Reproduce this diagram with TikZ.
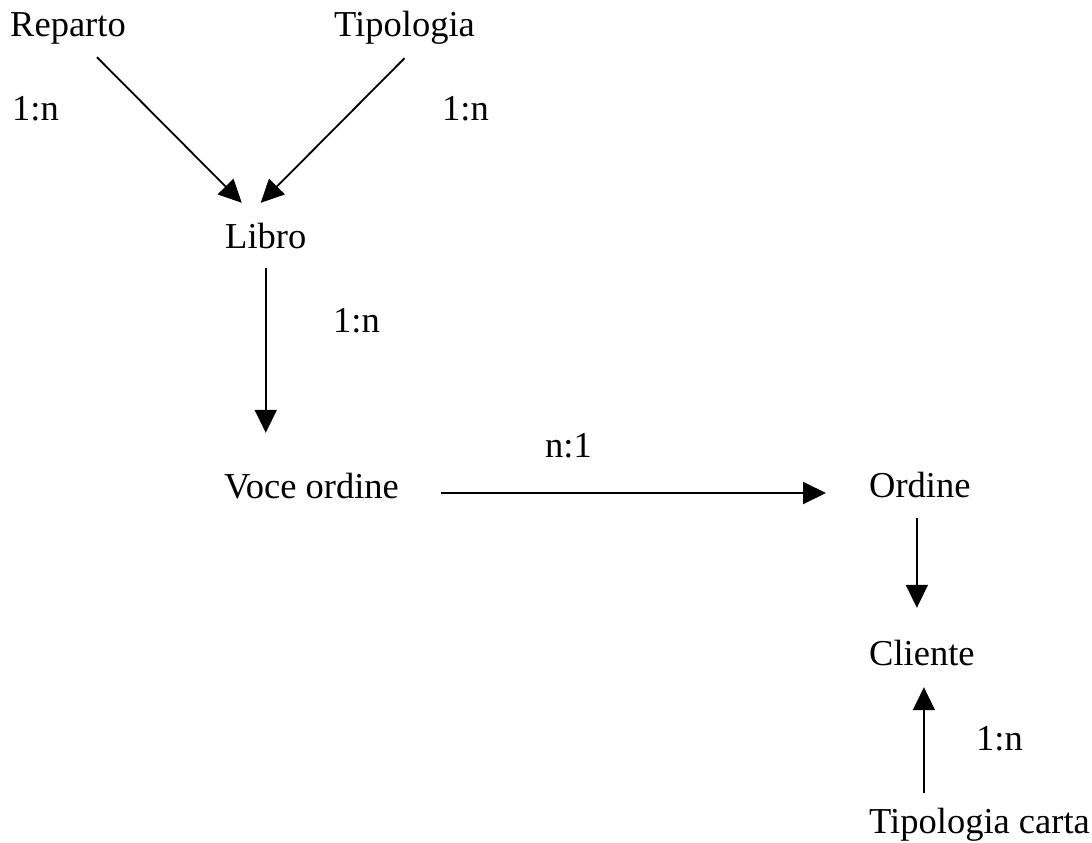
\documentclass[tikz,border=0pt]{standalone}
\usepackage{fontspec}
\setmainfont{Liberation Serif}
\usetikzlibrary{arrows.meta,calc}
\begin{document}
\begin{tikzpicture}[x=1pt,y=-1pt,
  lbl/.style={anchor=base west,inner sep=0pt,text height=25pt,text depth=8pt,font=\fontsize{36.5}{43}\selectfont},
  arr/.style={line width=1.8pt,-{Triangle[length=23pt,width=22pt]}}]
\useasboundingbox (0,0) rectangle (1092,843);
\node[lbl] (rep) at (10,37) {Reparto};
\node[lbl] (tip) at (334,37) {Tipologia};
\node[lbl] (r1) at (12,120) {1:n};
\node[lbl] (r2) at (442,120) {1:n};
\node[lbl] (lib) at (225,248) {Libro};
\node[lbl] (r3) at (333,332) {1:n};
\node[lbl] (voce) at (224,498) {Voce ordine};
\node[lbl] (r4) at (545,457) {n:1};
\node[lbl] (ord) at (869,497) {Ordine};
\node[lbl] (cli) at (869,665) {Cliente};
\node[lbl] (r5) at (976,750) {1:n};
\node[lbl] (tc) at (869,833) {Tipologia carta};
\draw[arr] ([xshift=29pt,yshift=-12pt]rep.south) -- ([xshift=-24pt,yshift=20pt]lib.north);
\draw[arr] ([yshift=-13pt]tip.south) -- ([xshift=-5pt,yshift=20pt]lib.north);
\draw[arr] ([yshift=-12pt]lib.south) -- ([yshift=40pt]lib.south |- voce.north);
\draw[arr] ([xshift=42pt,yshift=-3.5pt]voce.east) -- ([xshift=-43pt,yshift=-4.5pt]ord.west);
\draw[arr] ($(ord.south)+(-3,13)$) -- ($(ord.south |- cli.north)+(-3,-32)$);
\draw[arr] ($(cli.south |- tc.north)+(2,-15)$) -- ($(cli.south)+(2,14)$);
\end{tikzpicture}
\end{document}
